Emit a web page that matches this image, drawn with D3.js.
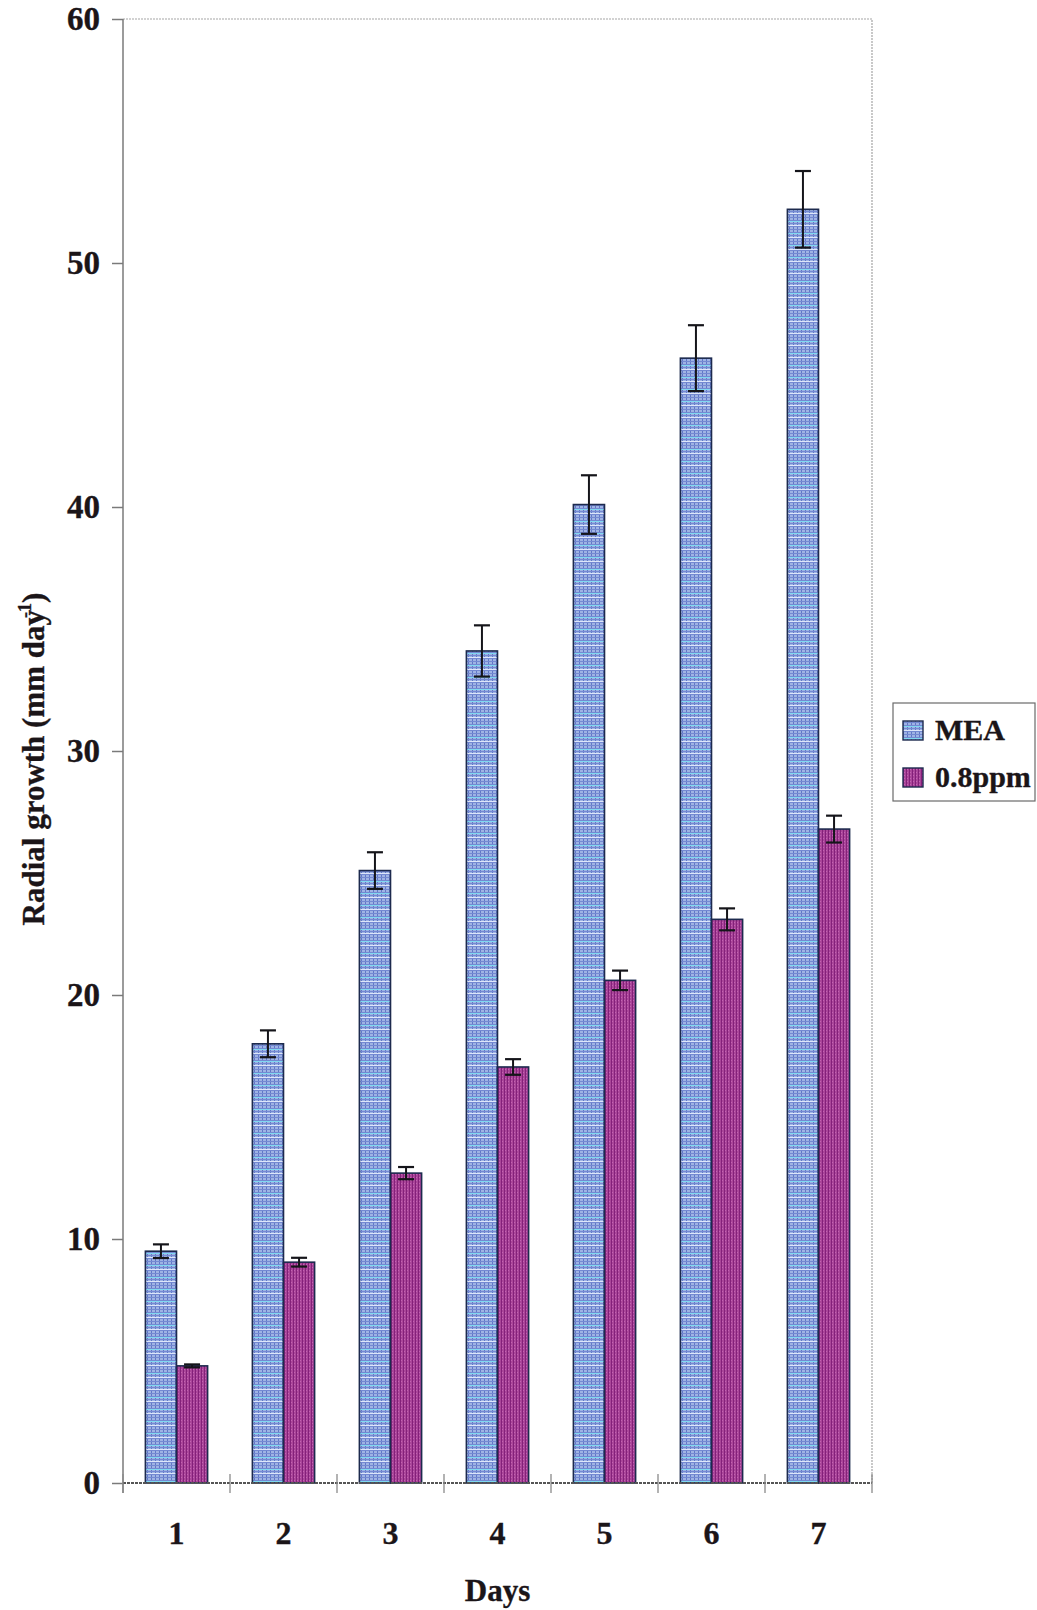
<!DOCTYPE html>
<html>
<head>
<meta charset="utf-8">
<script src="https://cdn.jsdelivr.net/npm/d3@7"></script>
<style>
  html, body { margin: 0; padding: 0; background: #ffffff; }
  svg { display: block; }
  text { font-family: "Liberation Serif", "Times New Roman", serif; font-weight: bold; fill: #1b1518; stroke: #1b1518; stroke-width: 0.35px; }
</style>
</head>
<body>
<div id="chart"></div>
<script>
// Radial growth per day, control medium vs. 0.8 ppm treatment
const days = ["1", "2", "3", "4", "5", "6", "7"];
const seriesNames = ["MEA", "0.8ppm"];
const meaValues = [9.5, 18.0, 25.1, 34.1, 40.1, 46.1, 52.2];
const meaErrors = [0.28, 0.55, 0.75, 1.05, 1.2, 1.35, 1.57];
const ppmValues = [4.8, 9.05, 12.7, 17.05, 20.6, 23.1, 26.8];
const ppmErrors = [0.06, 0.18, 0.25, 0.32, 0.4, 0.45, 0.55];
const yTicks = [0, 10, 20, 30, 40, 50, 60];

const W = 1037, H = 1610;
const plot = { left: 123, right: 872, top: 19, bottom: 1483 };

const svg = d3.select("#chart").append("svg")
  .attr("width", W).attr("height", H);

svg.append("rect").attr("width", W).attr("height", H).attr("fill", "#ffffff");

// Hatched fills used for the bars and the legend keys
const defs = svg.append("defs");
const pBlue = defs.append("pattern").attr("id", "fill-mea")
  .attr("patternUnits", "userSpaceOnUse").attr("width", 4).attr("height", 12);
pBlue.append("rect").attr("width", 4).attr("height", 12).attr("fill", "#9fb3e4");
pBlue.append("rect").attr("x", 0).attr("y", 0).attr("width", 1).attr("height", 12).attr("fill", "#6178c6");
[1, 4, 7, 10].forEach(y => pBlue.append("rect").attr("x", 0).attr("y", y).attr("width", 4).attr("height", 1).attr("fill", "#7489d2"));
pBlue.append("rect").attr("x", 0).attr("y", 5).attr("width", 4).attr("height", 1).attr("fill", "#7fd8f0");
pBlue.append("rect").attr("x", 0).attr("y", 9).attr("width", 4).attr("height", 1).attr("fill", "#dde6fa");

const pPurple = defs.append("pattern").attr("id", "fill-ppm")
  .attr("patternUnits", "userSpaceOnUse").attr("width", 3).attr("height", 3);
pPurple.append("rect").attr("width", 3).attr("height", 3).attr("fill", "#aa4699");
pPurple.append("rect").attr("x", 0).attr("y", 0).attr("width", 1).attr("height", 3).attr("fill", "#84207a");
pPurple.append("rect").attr("x", 1).attr("y", 1).attr("width", 1).attr("height", 1).attr("fill", "#c463b3");

const fills = { "MEA": "url(#fill-mea)", "0.8ppm": "url(#fill-ppm)" };

const x0 = d3.scaleBand().domain(days).range([plot.left, plot.right]).padding(0);
const x1 = d3.scaleBand().domain(seriesNames).range([0, x0.bandwidth()])
  .paddingInner(0).paddingOuter(0.72);
const y = d3.scaleLinear().domain([0, 60]).range([plot.bottom, plot.top]);

// Plot frame: light top and right edges
svg.append("path")
  .attr("d", `M${plot.left},${plot.top}H${plot.right}V${plot.bottom}`)
  .attr("fill", "none").attr("stroke", "#a5a5a5").attr("stroke-width", 1.2)
  .attr("stroke-dasharray", "2,1");

const rows = days.map((d, i) => ({
  day: d,
  values: [
    { key: "MEA", value: meaValues[i], err: meaErrors[i] },
    { key: "0.8ppm", value: ppmValues[i], err: ppmErrors[i] }
  ]
}));

const groups = svg.append("g").selectAll("g").data(rows).join("g")
  .attr("transform", d => `translate(${x0(d.day)},0)`);

groups.selectAll("rect").data(d => d.values).join("rect")
  .attr("x", d => x1(d.key))
  .attr("y", d => y(d.value))
  .attr("width", x1.bandwidth())
  .attr("height", d => y(0) - y(d.value))
  .attr("fill", d => fills[d.key])
  .attr("stroke", "#1d2a4e").attr("stroke-width", 1.6);

// Error bars
const eb = groups.selectAll("g.err").data(d => d.values).join("g").attr("class", "err");
const cap = 8;
eb.append("line")
  .attr("x1", d => x1(d.key) + x1.bandwidth() / 2).attr("x2", d => x1(d.key) + x1.bandwidth() / 2)
  .attr("y1", d => y(d.value + d.err)).attr("y2", d => y(d.value - d.err))
  .attr("stroke", "#15151a").attr("stroke-width", 2);
eb.append("line")
  .attr("x1", d => x1(d.key) + x1.bandwidth() / 2 - cap).attr("x2", d => x1(d.key) + x1.bandwidth() / 2 + cap)
  .attr("y1", d => y(d.value + d.err)).attr("y2", d => y(d.value + d.err))
  .attr("stroke", "#15151a").attr("stroke-width", 2.2);
eb.append("line")
  .attr("x1", d => x1(d.key) + x1.bandwidth() / 2 - cap).attr("x2", d => x1(d.key) + x1.bandwidth() / 2 + cap)
  .attr("y1", d => y(d.value - d.err)).attr("y2", d => y(d.value - d.err))
  .attr("stroke", "#15151a").attr("stroke-width", 2.2);

// Y axis
const yAxis = svg.append("g").attr("transform", `translate(${plot.left},0)`)
  .call(d3.axisLeft(y).tickValues(yTicks).tickFormat(d3.format("d")).tickSize(11).tickPadding(12));
yAxis.select(".domain").attr("stroke", "#7a7a7a").attr("stroke-width", 1.5)
  .attr("d", `M0,${plot.top}V${plot.bottom + 10}`);
yAxis.selectAll(".tick line").attr("stroke", "#7a7a7a").attr("stroke-width", 1.5);
yAxis.selectAll(".tick text")
  .style("font-family", "'Liberation Serif', 'Times New Roman', serif")
  .style("font-weight", "bold").style("font-size", "33px").attr("fill", "#1b1518");

// X axis: boundary ticks between days, labels at the day centres
const boundaries = days.map(d => x0(d)).concat([plot.right]);
const xAxis = svg.append("g");
xAxis.append("line")
  .attr("x1", plot.left).attr("x2", plot.right)
  .attr("y1", plot.bottom).attr("y2", plot.bottom)
  .attr("stroke", "#555555").attr("stroke-width", 1.8).attr("stroke-dasharray", "3,1");
xAxis.selectAll("line.tk").data(boundaries).join("line").attr("class", "tk")
  .attr("x1", d => d).attr("x2", d => d)
  .attr("y1", plot.bottom - 9).attr("y2", plot.bottom + 10)
  .attr("stroke", "#8a8a8a").attr("stroke-width", 1.3);
xAxis.selectAll("text").data(days).join("text")
  .attr("x", d => x0(d) + x0.bandwidth() / 2)
  .attr("y", 1544)
  .attr("text-anchor", "middle")
  .style("font-size", "32px")
  .text(d => d);

// Axis titles
svg.append("text")
  .attr("x", (plot.left + plot.right) / 2).attr("y", 1601)
  .attr("text-anchor", "middle").style("font-size", "31px")
  .text("Days");

const yTitle = svg.append("text")
  .attr("transform", `translate(44,${(plot.top + plot.bottom) / 2 + 8}) rotate(-90)`)
  .attr("text-anchor", "middle").style("font-size", "31px");
yTitle.append("tspan").text("Radial growth (mm day");
yTitle.append("tspan").attr("dx", -8).attr("dy", -13).style("font-size", "18px").text("-1");
yTitle.append("tspan").attr("dy", 13).text(")");

// Legend
const legend = svg.append("g").attr("transform", "translate(893,703)");
legend.append("rect").attr("width", 142).attr("height", 98)
  .attr("fill", "#ffffff").attr("stroke", "#6a6a6a").attr("stroke-width", 1.2);
const li = legend.selectAll("g").data(seriesNames).join("g")
  .attr("transform", (d, i) => `translate(10,${18 + i * 47})`);
li.append("rect").attr("width", 20).attr("height", 19)
  .attr("fill", d => fills[d]).attr("stroke", "#1d2a4e").attr("stroke-width", 1.4);
li.append("text").attr("x", 32).attr("y", 19).style("font-size", "30px").text(d => d);
</script>
</body>
</html>
